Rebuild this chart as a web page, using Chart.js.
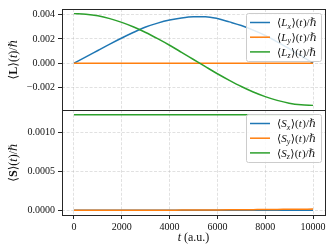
<!DOCTYPE html>
<html>
<head>
<meta charset="utf-8">
<script src="https://cdn.jsdelivr.net/npm/chart.js@4/dist/chart.umd.min.js"></script>
<style>
  body { margin: 0; background: #fff; }
  #wrap { position: relative; width: 332px; height: 250px; }
  #wrap canvas { position: absolute; left: 0; top: 0; }
</style>
</head>
<body>
<div id="wrap">
  <canvas id="bottom" width="332" height="250"></canvas>
  <canvas id="top" width="332" height="250"></canvas>
</div>
<script>
// time axis (a.u.)
const times = [0, 500, 1000, 1500, 2000, 2500, 3000, 3500, 4000, 4500, 5000,
  5500, 6000, 6500, 7000, 7500, 8000, 8500, 9000, 9500, 10000];

// orbital angular momentum <L>(t)/hbar
const lx = [0, 0.00052, 0.00105, 0.00158, 0.00208, 0.00255, 0.00298, 0.00330, 0.00355, 0.00372, 0.00382,
  0.00383, 0.00368, 0.00340, 0.00310, 0.00272, 0.00228, 0.00176, 0.00120, 0.00060, 0.00002];
const ly = [0, 0, 0, 0, 0, 0, 0, 0, 0, 0, 0, 0, 0, 0, 0, 0, 0, 0, 0, 0, 0];
const lz = [0.00408, 0.00403, 0.00390, 0.00367, 0.00336, 0.00298, 0.00253, 0.00202, 0.00148, 0.00090, 0.00031,
  -0.00028, -0.00086, -0.00140, -0.00191, -0.00236, -0.00274, -0.00305, -0.00328, -0.00341, -0.00346];

// spin <S>(t)/hbar
const sx = [0, 0, 0, 0, 0, 0, 0, 0, 0, 0, 0, 0, 0, 0, 0, 0, 0, 0, 0, 0, 0];
const sy = [0, 0, 0, 0, 0, 0, 0, 0.0000005, 0.000001, 0.0000015, 0.000002, 0.000003, 0.000004, 0.000005,
  0.000006, 0.0000075, 0.000009, 0.0000105, 0.000012, 0.0000135, 0.000015];
const sz = [0.001223, 0.001223, 0.001223, 0.001223, 0.001223, 0.001223, 0.001223, 0.001223, 0.001223, 0.001223,
  0.001223, 0.001223, 0.001223, 0.001223, 0.001223, 0.001223, 0.001223, 0.001223, 0.001223, 0.001223, 0.001223];

const components = ["x", "y", "z"];
const xTicks = [0, 2000, 4000, 6000, 8000, 10000];
const lTicks = [-0.002, 0, 0.002, 0.004];
const sTicks = [0, 0.0005, 0.001];

const colors = ["#1f77b4", "#ff7f0e", "#2ca02c"];
const FAM = '"Liberation Serif", "DejaVu Serif", serif';

// draws a row of text pieces (italic / bold / subscript) as one label
function drawRich(ctx, segs, x, y, size, align) {
  const fontOf = s => (s.i ? "italic " : "") + (s.b ? "bold " : "") + (s.sub ? size * 0.72 : size) + "px " + FAM;
  let total = 0;
  segs.forEach(s => { ctx.font = fontOf(s); s.w = ctx.measureText(s.t).width; total += s.w; });
  let cx = align === "center" ? x - total / 2 : x;
  const base = y + size * 0.33;
  ctx.textAlign = "left";
  ctx.textBaseline = "alphabetic";
  segs.forEach(s => {
    ctx.font = fontOf(s);
    ctx.fillText(s.t, cx, s.sub ? base + size * 0.22 : base);
    cx += s.w + (s.gap || 0);
  });
}

function seriesLabel(letter, comp) {
  return [{ t: "⟨" }, { t: letter, i: true }, { t: comp, i: true, sub: true, gap: 0.5 },
    { t: "⟩(" }, { t: "t", i: true, gap: 0.5 }, { t: ")/ℏ" }];
}

const panelDecor = {
  id: "panelDecor",
  afterDatasetsDraw(chart, args, opts) {
    const { ctx, chartArea: a } = chart;
    ctx.save();
    // frame round the axes
    ctx.strokeStyle = "#262626";
    ctx.lineWidth = 1;
    ctx.strokeRect(Math.round(a.left) + 0.5, Math.round(a.top) + 0.5,
      Math.round(a.right - a.left), Math.round(a.bottom - a.top));

    // legend box
    const bw = 75, bh = 48;
    const bx = a.right - 4 - bw, by = a.top + opts.legendTop;
    ctx.fillStyle = "rgba(255,255,255,0.85)";
    ctx.strokeStyle = "#cccccc";
    ctx.lineWidth = 1;
    ctx.beginPath();
    ctx.roundRect(bx + 0.5, by + 0.5, bw, bh, 2);
    ctx.fill();
    ctx.stroke();
    chart.data.datasets.forEach((ds, k) => {
      const ry = by + 9.5 + k * 14.7;
      ctx.strokeStyle = ds.borderColor;
      ctx.lineWidth = 1.5;
      ctx.beginPath();
      ctx.moveTo(bx + 4, ry);
      ctx.lineTo(bx + 24, ry);
      ctx.stroke();
      ctx.fillStyle = "#111";
      drawRich(ctx, seriesLabel(opts.letter, components[k]), bx + 31, ry, 11, "left");
    });

    // y-axis title, rotated
    ctx.fillStyle = "#111";
    ctx.translate(13, (a.top + a.bottom) / 2);
    ctx.rotate(-Math.PI / 2);
    drawRich(ctx, [{ t: "⟨" }, { t: opts.letter, b: true }, { t: "⟩(" }, { t: "t", i: true }, { t: ")/ℏ" }], 0, 0, 12, "center");
    ctx.setTransform(1, 0, 0, 1, 0, 0);

    if (opts.xTitle) {
      drawRich(ctx, [{ t: "t", i: true }, { t: " (a.u.)" }], (a.left + a.right) / 2, 237, 12, "center");
    }
    ctx.restore();
  }
};

function makeDatasets(series) {
  return series.map((vals, k) => ({
    label: "⟨" + components[k] + "⟩",
    data: times.map((t, j) => ({ x: t, y: vals[j] })),
    borderColor: colors[k],
    borderWidth: 1.5,
    pointRadius: 0,
    cubicInterpolationMode: "monotone",
    order: 3 - k, // later series on top, like the original
  }));
}

const gridStyle = {
  color: "rgba(170,170,170,0.45)",
  lineWidth: 0.8,
  tickColor: "#262626",
  tickLength: 4,
  tickBorderDash: [],
  tickWidth: 1,
};

function makeChart(id, series, yMin, yMax, yTicks, digits, opts) {
  return new Chart(document.getElementById(id), {
    type: "line",
    data: { datasets: makeDatasets(series) },
    options: {
      responsive: false,
      animation: false,
      layout: { padding: { top: opts.padTop, bottom: opts.padBottom, left: 0, right: 7 } },
      plugins: {
        legend: { display: false },
        tooltip: { enabled: false },
        panelDecor: { letter: opts.letter, legendTop: 4, xTitle: opts.showX },
      },
      scales: {
        x: {
          type: "linear",
          min: -500,
          max: 10500,
          afterBuildTicks: s => { s.ticks = xTicks.map(v => ({ value: v })); },
          afterFit: s => { s.height = opts.showX ? 35 : 0; },
          ticks: {
            display: opts.showX,
            color: "#111",
            padding: 2,
            maxRotation: 0,
            font: { family: FAM, size: 10 },
            callback: v => String(v),
          },
          grid: Object.assign({}, gridStyle, { drawTicks: opts.showX }),
          border: { display: false, dash: [3, 1.6] },
        },
        y: {
          min: yMin,
          max: yMax,
          afterBuildTicks: s => { s.ticks = yTicks.map(v => ({ value: v })); },
          afterFit: s => { s.width = 62; },
          ticks: {
            color: "#111",
            padding: 3,
            font: { family: FAM, size: 10 },
            callback: v => (v < 0 ? "−" : "") + Math.abs(v).toFixed(digits),
          },
          grid: gridStyle,
          border: { display: false, dash: [3, 1.6] },
        },
      },
    },
    plugins: [panelDecor],
  });
}

makeChart("top", [lx, ly, lz], -0.00384, 0.00446, lTicks, 3,
  { padTop: 5, padBottom: 140, letter: "L", showX: false });
makeChart("bottom", [sx, sy, sz], -0.000061, 0.001284, sTicks, 4,
  { padTop: 110, padBottom: 0, letter: "S", showX: true });
</script>
</body>
</html>
